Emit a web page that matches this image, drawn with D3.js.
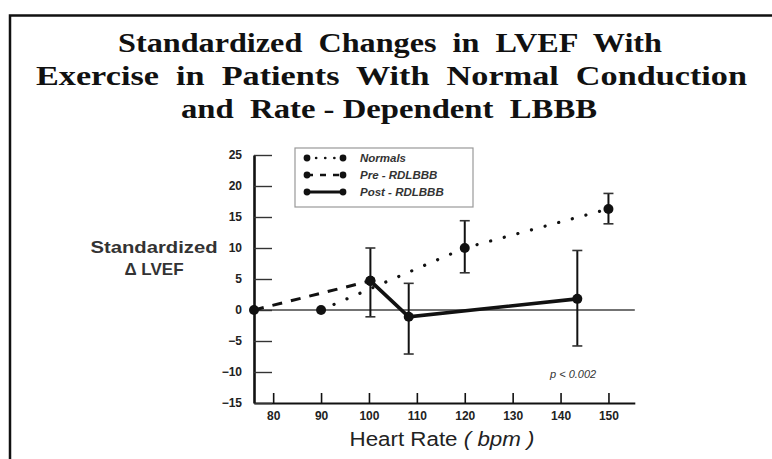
<!DOCTYPE html>
<html>
<head>
<meta charset="utf-8">
<script src="https://cdn.jsdelivr.net/npm/d3@7"></script>
<style>
  body { margin: 0; background: #fff; }
  svg { display: block; }
</style>
</head>
<body>
<div id="chart"></div>
<script>
// data (heart rate bpm, standardized change in LVEF)
var normalsX = [90, 120, 150];
var normalsY = [0, 10, 16.3];
var normalsErr = [null, [6.0, 14.4], [13.9, 18.8]];

var preX = [76, 100.3];
var preY = [0, 4.7];
var preErr = [null, [-1.1, 10.0]];

var postX = [100.3, 108.3, 143.5];
var postY = [4.7, -1.1, 1.8];
var postErr = [null, [-7.1, 4.3], [-5.8, 9.6]];

var xTicks = [80, 90, 100, 110, 120, 130, 140, 150];
var yTicks = [-15, -10, -5, 0, 5, 10, 15, 20, 25];
var legendLabels = ["Normals", "Pre - RDLBBB", "Post - RDLBBB"];
var titleLines = ["Standardized  Changes  in  LVEF  With",
                  "Exercise  in  Patients  With  Normal  Conduction",
                  "and  Rate - Dependent  LBBB"];

function init() {
    var w = 772, h = 459;

    var svg = d3.select("#chart")
                .append("svg")
                .attr("width", w)
                .attr("height", h);

    // frame (left + top only, as in the scan)
    svg.append("path")
        .attr("d", "M10," + h + "V15.5H" + w)
        .attr("fill", "none")
        .attr("stroke", "#111")
        .attr("stroke-width", 2.5);

    // title
    var titleLen = [544, 711, 416];
    var titleBase = [52, 85, 118];
    svg.selectAll(".title")
        .data(titleLines)
        .enter()
        .append("text")
        .attr("class", "title")
        .attr("x", function(d, i){ return [390, 391.5, 389][i]; })
        .attr("y", function(d, i){ return titleBase[i]; })
        .attr("text-anchor", "middle")
        .attr("font-family", "Liberation Serif, serif")
        .attr("font-weight", "bold")
        .attr("font-size", "28px")
        .attr("textLength", function(d, i){ return titleLen[i]; })
        .attr("lengthAdjust", "spacingAndGlyphs")
        .attr("fill", "#111")
        .style("white-space", "pre")
        .text(function(d){ return d; });

    var x = d3.scaleLinear().domain([76, 155.5]).range([254, 634.8]);
    var y = d3.scaleLinear().domain([-15, 25]).range([403, 155]);

    // zero reference line
    svg.append("line")
        .attr("x1", x(76)).attr("x2", x(155.5))
        .attr("y1", y(0)).attr("y2", y(0))
        .attr("stroke", "#444")
        .attr("stroke-width", 1.3);

    // axes
    var xAxis = d3.axisBottom(x)
        .tickValues(xTicks)
        .tickSizeInner(-10)
        .tickSizeOuter(0)
        .tickPadding(8);
    var gx = svg.append("g")
        .attr("transform", "translate(0," + y(-15) + ")")
        .call(xAxis);
    gx.select(".domain").attr("stroke", "#111").attr("stroke-width", 2);
    gx.selectAll(".tick line").attr("stroke", "#111").attr("stroke-width", 1.6);
    gx.selectAll("text")
        .attr("font-family", "Liberation Sans Narrow, Liberation Sans, Arial, sans-serif")
        .attr("font-size", "12px")
        .attr("font-weight", "bold")
        .attr("fill", "#222");

    var yAxis = d3.axisLeft(y)
        .tickValues(yTicks)
        .tickSizeInner(-18)
        .tickSizeOuter(0)
        .tickPadding(12)
        .tickFormat(function(d){ return d < 0 ? "\u2212" + Math.abs(d) : d; });
    var gy = svg.append("g")
        .attr("transform", "translate(" + x(76) + ",0)")
        .call(yAxis);
    gy.select(".domain").attr("stroke", "#111").attr("stroke-width", 2.6);
    gy.selectAll(".tick line").attr("stroke", "#333").attr("stroke-width", 1.4);
    gy.selectAll("text")
        .attr("font-family", "Liberation Sans Narrow, Liberation Sans, Arial, sans-serif")
        .attr("font-size", "12px")
        .attr("font-weight", "bold")
        .attr("fill", "#222");

    // axis titles
    svg.append("text")
        .attr("x", 154).attr("y", 253)
        .attr("text-anchor", "middle")
        .attr("font-family", "Liberation Sans, Arial, sans-serif")
        .attr("font-size", "17px")
        .attr("font-weight", "bold")
        .attr("textLength", 127)
        .attr("lengthAdjust", "spacingAndGlyphs")
        .attr("fill", "#333")
        .text("Standardized");
    svg.append("text")
        .attr("x", 154).attr("y", 275)
        .attr("text-anchor", "middle")
        .attr("font-family", "Liberation Sans, Arial, sans-serif")
        .attr("font-size", "17px")
        .attr("font-weight", "bold")
        .attr("fill", "#333")
        .text("\u0394 LVEF");

    var xt = svg.append("text")
        .attr("x", 442).attr("y", 446)
        .attr("text-anchor", "middle")
        .attr("font-family", "Liberation Sans, Arial, sans-serif")
        .attr("font-size", "20px")
        .attr("textLength", 185)
        .attr("lengthAdjust", "spacingAndGlyphs")
        .attr("fill", "#222");
    xt.append("tspan").text("Heart Rate  ");
    xt.append("tspan").attr("font-style", "italic").text("( bpm )");

    // series
    var series = [
        {xs: normalsX, ys: normalsY, err: normalsErr, dash: "0.1,14", width: 3.2, cap: "round"},
        {xs: preX, ys: preY, err: preErr, dash: "10,9", width: 3, cap: "butt"},
        {xs: postX, ys: postY, err: postErr, dash: null, width: 3.6, cap: "butt"}
    ];

    var line = d3.line()
        .x(function(d){ return x(d[0]); })
        .y(function(d){ return y(d[1]); });

    series.forEach(function(s) {
        var pts = s.xs.map(function(v, i){ return [v, s.ys[i], s.err[i]]; });

        svg.append("path")
            .datum(pts)
            .attr("d", line)
            .attr("fill", "none")
            .attr("stroke", "#111")
            .attr("stroke-width", s.width)
            .attr("stroke-linecap", s.cap)
            .attr("stroke-dasharray", s.dash);

        var eb = svg.append("g");
        pts.filter(function(d){ return d[2]; }).forEach(function(d) {
            eb.append("line")
                .attr("x1", x(d[0])).attr("x2", x(d[0]))
                .attr("y1", y(d[2][0])).attr("y2", y(d[2][1]))
                .attr("stroke", "#111").attr("stroke-width", 2);
            d[2].forEach(function(v) {
                eb.append("line")
                    .attr("x1", x(d[0]) - 5).attr("x2", x(d[0]) + 5)
                    .attr("y1", y(v)).attr("y2", y(v))
                    .attr("stroke", "#333").attr("stroke-width", 1.6);
            });
        });

        svg.append("g")
            .selectAll("circle")
            .data(pts)
            .enter()
            .append("circle")
            .attr("cx", function(d){ return x(d[0]); })
            .attr("cy", function(d){ return y(d[1]); })
            .attr("r", 5)
            .attr("fill", "#111");
    });

    // legend
    var lg = svg.append("g");
    lg.append("rect")
        .attr("x", 295).attr("y", 148)
        .attr("width", 178).attr("height", 59)
        .attr("fill", "none")
        .attr("stroke", "#999")
        .attr("stroke-width", 1.2);
    legendLabels.forEach(function(lab, i) {
        var ly = 158 + i * 17;
        var s = series[i];
        lg.append("line")
            .attr("x1", 307).attr("x2", 343)
            .attr("y1", ly).attr("y2", ly)
            .attr("stroke", "#111")
            .attr("stroke-width", i === 2 ? 3 : 2.6)
            .attr("stroke-linecap", s.cap)
            .attr("stroke-dasharray", i === 0 ? "0.1,9" : (i === 1 ? "6,7" : null));
        [307, 343].forEach(function(cx) {
            lg.append("circle")
                .attr("cx", cx).attr("cy", ly).attr("r", 3.4)
                .attr("fill", "#111");
        });
        lg.append("text")
            .attr("x", 360).attr("y", ly + 4)
            .attr("font-family", "Liberation Sans, Arial, sans-serif")
            .attr("font-size", "11.5px")
            .attr("font-style", "italic")
            .attr("font-weight", "bold")
            .attr("fill", "#333")
            .text(lab);
    });

    svg.append("text")
        .attr("x", 550).attr("y", 378)
        .attr("font-family", "Liberation Sans, Arial, sans-serif")
        .attr("font-size", "11px")
        .attr("font-style", "italic")
        .attr("fill", "#333")
        .text("p < 0.002");
}
window.onload = init;
</script>
</body>
</html>
